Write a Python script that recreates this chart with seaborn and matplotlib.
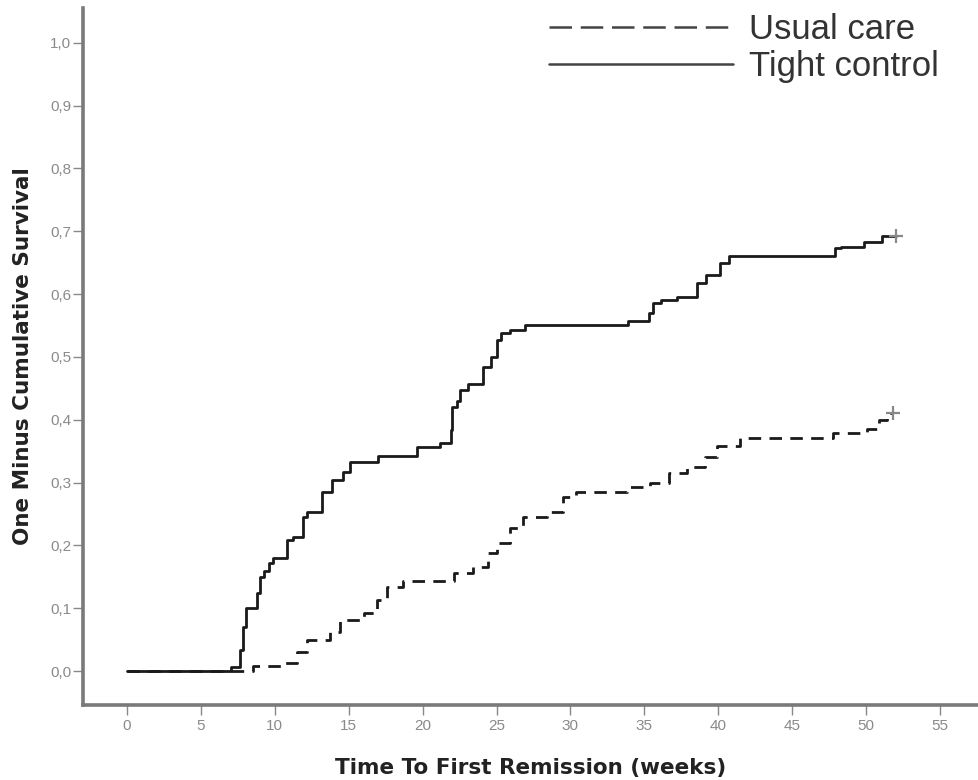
import numpy as np
import pandas as pd
import matplotlib
matplotlib.use("Agg")
import matplotlib.pyplot as plt
import seaborn as sns

# ---- data ----
tight_time = [0, 7.0, 7.65, 7.85, 8.05, 8.8, 9.0, 9.3, 9.6, 9.9, 10.8, 11.2, 11.9, 12.2,
              13.2, 13.9, 14.6, 15.1, 17.0, 19.6, 21.2, 21.9, 22.0, 22.3, 22.5, 23.1,
              24.1, 24.6, 25.0, 25.3, 25.9, 26.9, 33.9, 35.3, 35.6, 36.1, 37.2, 38.6,
              39.2, 40.1, 40.7, 47.9, 48.3, 49.9, 51.1, 52.0]
tight_val = [0, 0.007, 0.033, 0.07, 0.10, 0.125, 0.15, 0.16, 0.172, 0.18, 0.209, 0.214,
             0.245, 0.253, 0.285, 0.304, 0.317, 0.333, 0.342, 0.357, 0.363, 0.384, 0.42,
             0.43, 0.447, 0.457, 0.484, 0.50, 0.527, 0.538, 0.543, 0.551, 0.557, 0.57,
             0.586, 0.59, 0.596, 0.618, 0.63, 0.65, 0.66, 0.673, 0.675, 0.683, 0.693, 0.693]

usual_time = [0, 8.5, 10.4, 11.5, 12.2, 13.7, 14.4, 16.0, 16.9, 17.6, 18.7, 22.1, 23.4,
              24.4, 25.0, 25.9, 26.8, 28.4, 29.5, 30.4, 33.8, 35.4, 36.7, 37.9, 39.1,
              39.9, 41.5, 47.8, 50.1, 50.9, 51.4, 51.8]
usual_val = [0, 0.008, 0.013, 0.03, 0.049, 0.062, 0.081, 0.092, 0.113, 0.134, 0.143,
             0.156, 0.166, 0.188, 0.204, 0.228, 0.245, 0.253, 0.277, 0.285, 0.293, 0.299,
             0.315, 0.325, 0.34, 0.358, 0.371, 0.379, 0.385, 0.40, 0.41, 0.41]

groups = ["Usual care", "Tight control"]
x_ticks = [0, 5, 10, 15, 20, 25, 30, 35, 40, 45, 50, 55]
y_ticks = [0.0, 0.1, 0.2, 0.3, 0.4, 0.5, 0.6, 0.7, 0.8, 0.9, 1.0]
y_tick_labels = ["0,0", "0,1", "0,2", "0,3", "0,4", "0,5", "0,6", "0,7", "0,8", "0,9", "1,0"]

df_usual = pd.DataFrame({"time": usual_time, "value": usual_val, "group": groups[0]})
df_tight = pd.DataFrame({"time": tight_time, "value": tight_val, "group": groups[1]})
censor = pd.DataFrame({"time": [usual_time[-1], tight_time[-1]],
                       "value": [usual_val[-1], tight_val[-1]]})

# ---- plot ----
sns.set_theme(style="white")
plt.rcParams["font.family"] = ["Liberation Sans", "DejaVu Sans"]

fig = plt.figure(figsize=(9.79, 7.80), dpi=100)
ax = fig.add_axes([0.0848, 0.0962, 0.9152, 0.894])

line_col = "#1a1a1a"
sns.lineplot(data=df_usual, x="time", y="value", ax=ax, color=line_col, lw=2.0,
             drawstyle="steps-post", estimator=None, linestyle=(0, (4.5, 3)),
             label=groups[0])
sns.lineplot(data=df_tight, x="time", y="value", ax=ax, color=line_col, lw=2.0,
             drawstyle="steps-post", estimator=None, label=groups[1])
sns.scatterplot(data=censor, x="time", y="value", ax=ax, marker="+", color="#888888",
                s=90, linewidth=1.6, legend=False, zorder=5)

ax.set_xlim(-2.98, 57.65)
ax.set_ylim(-0.054, 1.056)
ax.set_xticks(x_ticks)
ax.set_xticklabels([str(t) for t in x_ticks])
ax.set_yticks(y_ticks)
ax.set_yticklabels(y_tick_labels)

spine_col = "#7a7a7a"
for s in ["top", "right"]:
    ax.spines[s].set_visible(False)
for s in ["left", "bottom"]:
    ax.spines[s].set_color(spine_col)
    ax.spines[s].set_linewidth(2.6)

ax.tick_params(axis="both", which="both", direction="out", length=7, width=1.0,
               color="#888888", labelcolor="#8a8a8a", labelsize=11, bottom=True, left=True)
ax.tick_params(axis="y", pad=1.5)
ax.tick_params(axis="x", pad=3)

ax.set_xlabel("Time To First Remission (weeks)", fontsize=15.5, fontweight="bold",
              color="#222222", labelpad=18, family="DejaVu Sans")
ax.set_ylabel("One Minus Cumulative Survival", fontsize=15.5, fontweight="bold",
              color="#222222", labelpad=12, family="DejaVu Sans")

leg = ax.legend(loc="upper left", bbox_to_anchor=(0.505, 1.012), frameon=False,
                fontsize=25, handlelength=5.3, handletextpad=0.45, labelspacing=0.12,
                borderaxespad=0)
for t in leg.get_texts():
    t.set_color("#333333")
for h in leg.get_lines():
    h.set_linewidth(1.8)
    h.set_color("#444444")
leg.get_lines()[0].set_dashes((9, 3.5))

fig.savefig("out.png", dpi=100, facecolor="white")
